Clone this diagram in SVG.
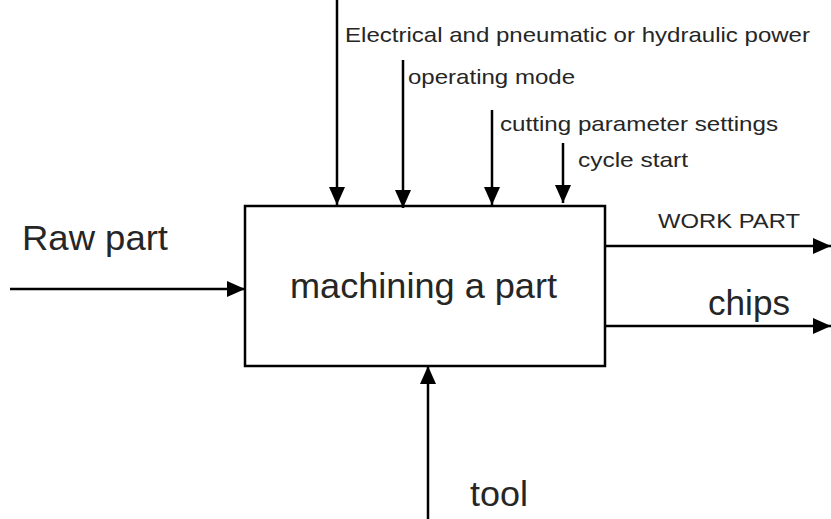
<svg xmlns="http://www.w3.org/2000/svg" width="831" height="519" viewBox="0 0 831 519">
<style>
.l{stroke:#000;stroke-width:2.5;fill:none}
.t{font-family:"Liberation Sans",Arial,sans-serif;fill:#262626}
</style>
<defs>
<marker id="h" viewBox="0 0 10 10" refX="10" refY="5" markerWidth="18" markerHeight="16" markerUnits="userSpaceOnUse" orient="auto" preserveAspectRatio="none">
<path d="M0,0 L10,5 L0,10 Z" fill="#000"/>
</marker>
</defs>
<g id="node-machining">
<rect x="245" y="206" width="360" height="160" fill="#fff" stroke="#000" stroke-width="2.5"/>
<text class="t" x="290" y="298" font-size="35" textLength="267" lengthAdjust="spacingAndGlyphs">machining a part</text>
</g>
<g id="connectors">
<line class="l" x1="337" y1="0" x2="337" y2="205" marker-end="url(#h)"/>
<line class="l" x1="403" y1="60" x2="403" y2="208" marker-end="url(#h)"/>
<line class="l" x1="492" y1="110" x2="492" y2="205" marker-end="url(#h)"/>
<line class="l" x1="563" y1="143" x2="563" y2="203" marker-end="url(#h)"/>
<line class="l" x1="10" y1="289" x2="245" y2="289" marker-end="url(#h)"/>
<line class="l" x1="605" y1="246" x2="831" y2="246" marker-end="url(#h)"/>
<line class="l" x1="605" y1="326" x2="831" y2="326" marker-end="url(#h)"/>
<line class="l" x1="428" y1="519" x2="428" y2="366" marker-end="url(#h)"/>
</g>
<g id="labels">
<text class="t" x="345" y="42" font-size="21" textLength="465" lengthAdjust="spacingAndGlyphs">Electrical and pneumatic or hydraulic power</text>
<text class="t" x="408" y="84" font-size="21" textLength="167" lengthAdjust="spacingAndGlyphs">operating mode</text>
<text class="t" x="500" y="131" font-size="21" textLength="278" lengthAdjust="spacingAndGlyphs">cutting parameter settings</text>
<text class="t" x="578" y="167" font-size="21" textLength="110" lengthAdjust="spacingAndGlyphs">cycle start</text>
<text class="t" x="22" y="250" font-size="35" textLength="146" lengthAdjust="spacingAndGlyphs">Raw part</text>
<text class="t" x="658" y="228" font-size="21" textLength="142" lengthAdjust="spacingAndGlyphs">WORK PART</text>
<text class="t" x="708" y="315" font-size="35" textLength="82" lengthAdjust="spacingAndGlyphs">chips</text>
<text class="t" x="470" y="506" font-size="35" textLength="58" lengthAdjust="spacingAndGlyphs">tool</text>
</g>
</svg>
